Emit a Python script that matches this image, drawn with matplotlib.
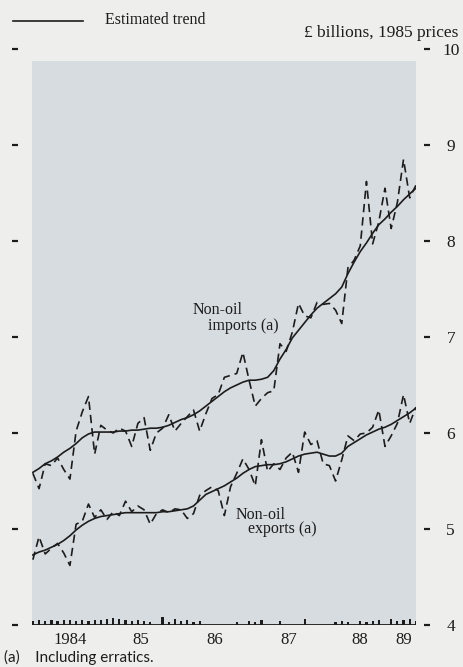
import numpy as np
import matplotlib.pyplot as plt
from matplotlib.lines import Line2D

# monthly, Jan 1984 - Mar 1989, £ billions at 1985 prices
months = np.arange(63)
t = 1984 + (months + 0.5) / 12.0

imports_actual = [5.58, 5.42, 5.68, 5.66, 5.74, 5.62, 5.52, 6.02, 6.22, 6.38,
                  5.78, 6.08, 6.03, 6.00, 6.05, 6.02, 5.86, 6.10, 6.16, 5.82,
                  6.00, 6.05, 6.19, 6.02, 6.10, 6.17, 6.24, 6.02, 6.20, 6.36,
                  6.40, 6.58, 6.60, 6.62, 6.84, 6.55, 6.28, 6.36, 6.42, 6.44,
                  6.93, 6.85, 7.05, 7.35, 7.22, 7.20, 7.36, 7.34, 7.35, 7.28,
                  7.14, 7.72, 7.80, 7.95, 8.62, 7.97, 8.20, 8.55, 8.13, 8.40,
                  8.85, 8.45, 8.58]
imports_trend = [5.59, 5.63, 5.68, 5.71, 5.75, 5.80, 5.84, 5.89, 5.95, 5.99,
                 6.01, 6.01, 6.01, 6.01, 6.02, 6.02, 6.03, 6.03, 6.04, 6.05,
                 6.05, 6.06, 6.08, 6.11, 6.14, 6.16, 6.19, 6.23, 6.28, 6.33,
                 6.38, 6.43, 6.47, 6.50, 6.53, 6.55, 6.55, 6.56, 6.58, 6.65,
                 6.77, 6.87, 6.99, 7.07, 7.15, 7.23, 7.30, 7.35, 7.40, 7.45,
                 7.52, 7.66, 7.78, 7.89, 7.98, 8.08, 8.17, 8.23, 8.30, 8.36,
                 8.43, 8.49, 8.55]
exports_actual = [4.68, 4.92, 4.74, 4.80, 4.85, 4.75, 4.62, 5.05, 5.08, 5.26,
                  5.12, 5.20, 5.10, 5.18, 5.14, 5.29, 5.18, 5.24, 5.20, 5.05,
                  5.16, 5.20, 5.17, 5.21, 5.20, 5.11, 5.16, 5.35, 5.40, 5.44,
                  5.40, 5.14, 5.44, 5.58, 5.73, 5.62, 5.45, 5.93, 5.60, 5.68,
                  5.62, 5.74, 5.80, 5.59, 6.01, 5.88, 5.92, 5.68, 5.66, 5.50,
                  5.72, 5.97, 5.92, 5.99, 6.00, 6.06, 6.24, 5.86, 5.97, 6.10,
                  6.40, 6.10, 6.27]
exports_trend = [4.73, 4.76, 4.78, 4.81, 4.84, 4.88, 4.93, 4.99, 5.04, 5.08,
                 5.11, 5.13, 5.14, 5.15, 5.16, 5.17, 5.17, 5.17, 5.17, 5.17,
                 5.17, 5.18, 5.18, 5.19, 5.20, 5.21, 5.24, 5.30, 5.36, 5.39,
                 5.42, 5.45, 5.49, 5.53, 5.58, 5.62, 5.65, 5.66, 5.67, 5.67,
                 5.68, 5.70, 5.73, 5.76, 5.78, 5.79, 5.80, 5.78, 5.76, 5.76,
                 5.79, 5.86, 5.90, 5.94, 5.98, 6.01, 6.04, 6.06, 6.09, 6.13,
                 6.17, 6.21, 6.26]
# erratics shown as small marks along the base of the chart
erratics = [0.04, 0.05, 0.04, 0.05, 0.04, 0.05, 0.05, 0.04, 0.05, 0.04,
            0.05, 0.05, 0.06, 0.07, 0.06, 0.05, 0.04, 0.05, 0.04, 0.03,
            0.0, 0.08, 0.03, 0.06, 0.04, 0.05, 0.03, 0.04, 0.0, 0.0,
            0.0, 0.0, 0.0, 0.03, 0.0, 0.04, 0.03, 0.05, 0.0, 0.0,
            0.04, 0.0, 0.0, 0.0, 0.06, 0.0, 0.0, 0.0, 0.0, 0.03,
            0.04, 0.03, 0.0, 0.04, 0.03, 0.04, 0.05, 0.0, 0.06, 0.04,
            0.05, 0.06, 0.04]

year_ticks = [1984.55, 1985.5, 1986.5, 1987.5, 1988.45, 1989.05]
year_labels = ['1984', '85', '86', '87', '88', '89']
value_ticks = [4, 5, 6, 7, 8, 9, 10]

serif = ['Liberation Serif', 'DejaVu Serif']
ink = '#1c1c1c'
paper = '#eeefed'
shade = '#d7dce1'

W, H = 464, 667
fig = plt.figure(figsize=(W / 100, H / 100), dpi=100, facecolor=paper)
ax = fig.add_axes([32 / W, 42 / H, 384 / W, 576 / H])
ax.set_facecolor(paper)
ax.set_xlim(1984.03, 1989.21)
ax.set_ylim(4, 10)
ax.axhspan(4, 9.88, color=shade, zorder=0, lw=0)

ax.plot(t, imports_trend, color=ink, lw=1.2, zorder=3)
ax.plot(t, exports_trend, color=ink, lw=1.2, zorder=3)
ax.plot(t, imports_actual, color=ink, lw=1.2, ls=(0, (5, 3)), zorder=3)
ax.plot(t, exports_actual, color=ink, lw=1.2, ls=(0, (5, 3)), zorder=3)

ax.bar(t, erratics, bottom=4.0, width=0.03, color=ink, zorder=3)
ax.axhline(4.0, color=ink, lw=1.3, zorder=3)

lab_kw = dict(family=serif, fontsize=11.5, color=ink, va='center')
ax.text(1986.2, 7.28, 'Non-oil', **lab_kw)
ax.text(1986.4, 7.11, 'imports (a)', **lab_kw)
ax.text(1986.77, 5.15, 'Non-oil', **lab_kw)
ax.text(1986.945, 5.0, 'exports (a)', **lab_kw)

for s in ax.spines.values():
    s.set_visible(False)
ax.spines['left'].set_position(('outward', 10))
ax.spines['right'].set_position(('outward', 6))

ax.set_xticks(year_ticks)
ax.set_xticklabels(year_labels, family=serif, fontsize=12, color=ink)
ax.tick_params(axis='x', length=0, pad=5)

ax.set_yticks(value_ticks)
ax.set_yticklabels([str(v) for v in value_ticks], family=serif, fontsize=12.5, color=ink)
ax.tick_params(axis='y', which='both', left=True, right=True, labelleft=False,
               labelright=True, direction='out', length=4, width=1.6,
               color=ink, pad=15)
for lab in ax.get_yticklabels():
    lab.set_horizontalalignment('center')

fig.add_artist(Line2D([13 / W, 83 / W], [1 - 21 / H, 1 - 21 / H], color=ink, lw=1.2))
fig.text(105 / W, 1 - 20 / H, 'Estimated trend', family=serif, fontsize=11.5,
         color=ink, va='center')
fig.text(458 / W, 1 - 33 / H, '£ billions, 1985 prices', family=serif,
         fontsize=12.5, color=ink, va='center', ha='right')
fig.text(4 / W, 1 - 657 / H, '(a)    Including erratics.', family=['Lato', 'DejaVu Sans'],
         fontsize=11, color=ink, va='center')

fig.savefig('out.png', dpi=100, facecolor=paper)
